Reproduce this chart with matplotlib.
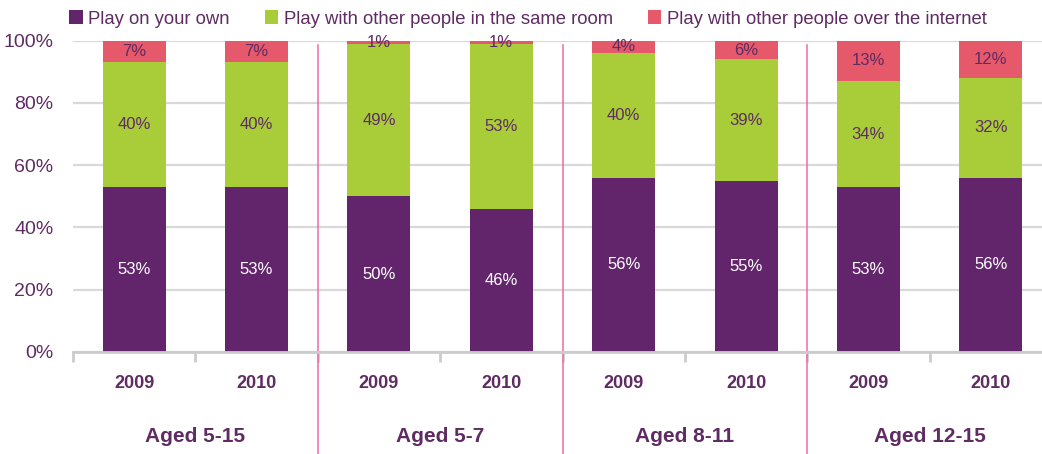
import matplotlib.pyplot as plt
import matplotlib.transforms as mtransforms

plt.rcParams["font.family"] = ["Liberation Sans", "DejaVu Sans"]

groups = ["Aged 5-15", "Aged 5-7", "Aged 8-11", "Aged 12-15"]
years = ["2009", "2010"]
series = [
    "Play on your own",
    "Play with other people in the same room",
    "Play with other people over the internet",
]
own = [53, 53, 50, 46, 56, 55, 53, 56]
same_room = [40, 40, 49, 53, 40, 39, 34, 32]
internet = [7, 7, 1, 1, 4, 6, 13, 12]

colors = ["#62246A", "#A8CD38", "#E5596A"]
label_colors = ["white", "#5F2B63", "#5F2B63"]
text_color = "#5F2B63"


def main():
    fig = plt.figure(figsize=(10.42, 4.54), dpi=100)
    ax = fig.add_axes([73 / 1042, 1 - 352 / 454, 979 / 1042, 311.3 / 454])

    x = list(range(len(own)))
    bottoms = [0] * len(own)
    bars = []
    for values, color, lc, name in zip([own, same_room, internet], colors, label_colors, series):
        b = ax.bar(x, values, 0.515, bottom=bottoms, color=color, label=name, zorder=2)
        bars.append(b)
        for xi, v, b0 in zip(x, values, bottoms):
            ax.text(xi, b0 + v / 2, f"{v}%", ha="center", va="center",
                    fontsize=12, color=lc, zorder=3)
        bottoms = [b0 + v for b0, v in zip(bottoms, values)]

    ax.set_xlim(-0.5, len(own) - 0.5)
    ax.set_ylim(0, 100)
    ax.set_yticks(range(0, 101, 20))
    ax.set_yticklabels([f"{v}%" for v in range(0, 101, 20)], fontsize=14, color=text_color)
    ax.tick_params(axis="y", length=0, pad=14)
    ax.grid(axis="y", color="#D9D9D9", linewidth=1.6, zorder=0)
    ax.set_axisbelow(True)

    ax.set_xticks([i - 0.5 for i in range(len(own) + 1)])
    ax.set_xticklabels([])
    ax.tick_params(axis="x", length=7, width=2, color="#CCCCCC", direction="out")

    for side in ["top", "right", "left"]:
        ax.spines[side].set_visible(False)
    ax.spines["bottom"].set_color("#CCCCCC")
    ax.spines["bottom"].set_linewidth(2)

    trans = mtransforms.blended_transform_factory(ax.transData, ax.transAxes)
    for i in x:
        ax.text(i, -0.1, years[i % 2], transform=trans, ha="center", va="center",
                fontsize=13, fontweight="bold", color=text_color)
    for g, name in enumerate(groups):
        ax.text(2 * g + 0.5, -0.273, name, transform=trans, ha="center", va="center",
                fontsize=15, fontweight="bold", color=text_color)
    for sep in [1.5, 3.5, 5.5]:
        ax.plot([sep, sep], [-0.33, 0.985], transform=trans, color="#F06AA5",
                linewidth=1.1, clip_on=False, zorder=1)

    leg = fig.legend(handles=bars, loc="center left", bbox_to_anchor=(62 / 1042, 1 - 19 / 454),
                     ncol=3, frameon=False, fontsize=13.3, handlelength=0.72, handleheight=0.72,
                     handletextpad=0.3, columnspacing=1.9, borderaxespad=0)
    for t in leg.get_texts():
        t.set_color(text_color)

    fig.savefig("out.png", dpi=100)


if __name__ == "__main__":
    main()
